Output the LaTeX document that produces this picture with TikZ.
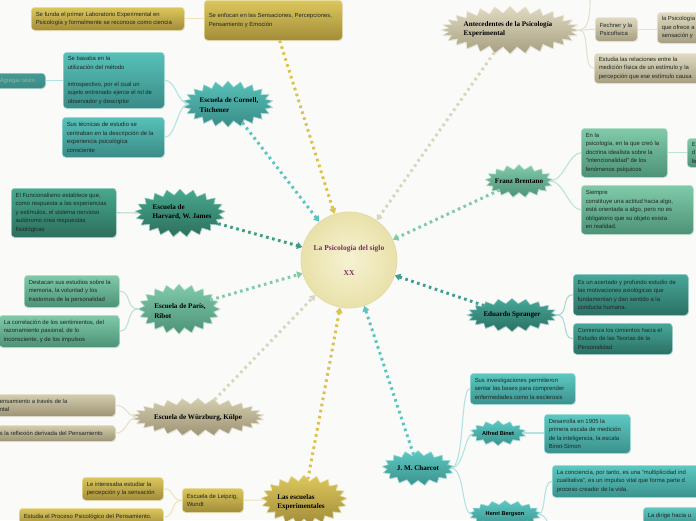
\documentclass[tikz,border=0pt]{standalone}
\usepackage{fontspec}
\setmainfont{Liberation Sans}
\newfontfamily\starfont{Liberation Serif}
\usetikzlibrary{shapes.symbols,arrows.meta,shadows}
\definecolor{bgc}{HTML}{FAFAF9}
\definecolor{goldA}{HTML}{DCC75C}
\definecolor{goldB}{HTML}{A28C3A}
\definecolor{tealA}{HTML}{57C1B9}
\definecolor{tealB}{HTML}{3A8B86}
\definecolor{grnA}{HTML}{47A98D}
\definecolor{grnB}{HTML}{2D6E5D}
\definecolor{lgrA}{HTML}{80CAA9}
\definecolor{lgrB}{HTML}{4D9278}
\definecolor{dtlA}{HTML}{47A899}
\definecolor{dtlB}{HTML}{2B7064}
\definecolor{ctlA}{HTML}{5DC8C1}
\definecolor{ctlB}{HTML}{3B928D}
\definecolor{bgeA}{HTML}{D4CDAE}
\definecolor{bgeB}{HTML}{9C9474}
\definecolor{be2A}{HTML}{E0DAC2}
\definecolor{be2B}{HTML}{A69F80}
\definecolor{txt}{HTML}{1E2826}
\definecolor{agr}{HTML}{93B4B1}
\definecolor{purp}{HTML}{7A2D60}
\definecolor{ctrA}{HTML}{F6F2D2}
\definecolor{ctrB}{HTML}{E9E1AA}
\definecolor{ctrD}{HTML}{E4DCA6}
\definecolor{dGold}{HTML}{DCC24C}
\definecolor{dTeal}{HTML}{5CC6BE}
\definecolor{dGrn}{HTML}{3E9C82}
\definecolor{dLgr}{HTML}{7FCBA9}
\definecolor{dBge}{HTML}{DAD5BD}
\definecolor{dDtl}{HTML}{3F9E8F}
\definecolor{lGold}{HTML}{EEE5B8}
\definecolor{lTeal}{HTML}{B4E3DF}
\definecolor{lGrn}{HTML}{B0D9CB}
\definecolor{lLgr}{HTML}{BDE4D3}
\definecolor{lBge}{HTML}{E6E1CF}
\definecolor{lDtl}{HTML}{ACDAD3}
\newcommand\bxfont{\fontsize{5.9}{8.5}\selectfont}
\newcommand\spfont{\starfont\bfseries\fontsize{7.1}{9.4}\selectfont}
\newcommand\ctfont{\starfont\bfseries\fontsize{7.5}{9}\selectfont}
\newcommand\smfont{\bfseries\fontsize{5.6}{7}\selectfont}
\tikzset{
  bx/.style={anchor=north west, rounded corners=3.5pt, inner xsep=4.5pt, inner ysep=1.5pt, align=flush left, font=\bxfont, text=txt},
  fl/.style 2 args={top color=#1, bottom color=#2, draw=#1!55!white, line width=0.5pt, drop shadow={shadow xshift=0.6pt, shadow yshift=-0.8pt, opacity=0.18}},
  spk/.style={starburst, random starburst=0, inner sep=0pt, outer sep=0pt},
  stxt/.style={font=\spfont, align=left, text=black, inner sep=0pt},
  dotl/.style={line width=3pt, dash pattern=on 2.6pt off 3.6pt, -{Triangle[length=5.5pt,width=7pt]}},
  tree/.style={line width=1.1pt},
}
\begin{document}
\begin{tikzpicture}[x=1pt,y=-1pt]
\fill[bgc] (0,0) rectangle (696,520);
\useasboundingbox (0,0) rectangle (696,520);

% centre
\node[circle, minimum size=96pt, inner sep=0pt, inner color=ctrA, outer color=ctrB, draw=ctrD, line width=0.8pt, font=\ctfont, text=purp, align=center] (ctr) at (349,260) {La Psicología del siglo\\[16pt]XX};

% top gold
\node[bx, fl={goldA}{goldB}, text width=129pt, minimum height=40pt] (enfocan) at (204,0) {Se enfocan en las Sensaciones, Percepciones,\\Pensamiento y Emoción};
\node[bx, fl={goldA}{goldB}, text width=144pt, minimum height=23pt] (funda) at (31,7) {Se funda el primer Laboratorio Experimental en\\Psicología y formalmente se reconoce como ciencia};

% Cornell
\node[spk, fl={tealA}{tealB}, minimum width=90pt, minimum height=46pt, starburst points=22, starburst point height=6pt] (cornell) at (228,104) {};
\node[stxt] (cornellT) at (229,105) {Escuela de Cornell,\\Titchener};
\node[bx, fl={tealA}{tealB}, text width=92pt, minimum height=56pt] (c1) at (63,52) {Se basaba en la\\ utilización del método\\[8.5pt]introspectivo, por el cual un\\sujeto entrenado ejerce el rol de\\observador y descriptor};
\node[bx, fl={tealA}{tealB}, text width=93pt, minimum height=40pt] (c2) at (62,117) {Sus técnicas de estudio se\\centraban en la descripción de la\\experiencia psicológica\\consciente};
\node[bx, fl={tealA!80!black}{tealB}, text width=41pt, minimum height=15pt, text=agr] (agr) at (-5,73) {Agregar texto};

% Harvard
\node[spk, fl={grnA}{grnB}, minimum width=90pt, minimum height=48pt, starburst points=21, starburst point height=6pt] (harvard) at (180,213) {};
\node[stxt] (harvardT) at (182,212) {Escuela de\\Harvard, W. James};
\node[bx, fl={grnA}{grnB}, text width=96pt, minimum height=49pt] (hv1) at (11,188) {El Funcionalismo establece que,\\como respuesta a las experiencias\\y estímulos, el sistema nervioso\\autónomo crea respuestas\\fisiológicas};

% Ribot
\node[spk, fl={lgrA}{lgrB}, minimum width=82pt, minimum height=50pt, starburst points=20, starburst point height=6pt] (ribot) at (179,309) {};
\node[stxt] (ribotT) at (180,311) {Escuela de París,\\Ribot};
\node[bx, fl={lgrA}{lgrB}, text width=86pt, minimum height=32pt] (r1) at (24,275) {Destacan sus estudios sobre la\\memoria, la voluntad y los\\trastornos de la personalidad};
\node[bx, fl={lgrA}{lgrB}, text width=111pt, minimum height=32pt] (r2) at (-1,315) { La correlación de los sentimientos, del\\razonamiento pasional, de lo\\inconsciente, y de los impulsos};

% Wurzburg
\node[spk, fl={bgeA}{bgeB}, minimum width=132pt, minimum height=38pt, starburst points=26, starburst point height=6pt] (wurz) at (198,417) {};
\node[stxt] (wurzT) at (198,418) {Escuela de Würzburg, Külpe};
\node[bx, fl={bgeA}{bgeB}, text width=111pt, minimum height=22pt] (w1) at (-5,394) {ensamiento a través de la\\ntal};
\node[bx, fl={bgeA}{bgeB}, text width=111pt, minimum height=16pt] (w2) at (-5,425) {s la reflexión derivada del Pensamiento};

% Las escuelas
\node[spk, fl={goldA}{goldB}, minimum width=86pt, minimum height=50pt, starburst points=21, starburst point height=6pt] (escuelas) at (304,500) {};
\node[stxt] (escuelasT) at (301,502) {Las escuelas\\Experimentales};
\node[bx, fl={goldA}{goldB}, text width=52pt, minimum height=24pt] (leip) at (182,488) {Escuela de Leipzig,\\Wundt};
\node[bx, fl={goldA}{goldB}, text width=72pt, minimum height=23pt] (l1) at (82,477) {Le interesaba estudiar la\\percepción y la sensación};
\node[bx, fl={goldA}{goldB}, text width=135pt, minimum height=18pt] (l2) at (19,508) {Estudia el Proceso Psicológico del Pensamiento.};

% Antecedentes
\node[spk, fl={be2A}{be2B}, minimum width=138pt, minimum height=48pt, starburst points=28, starburst point height=7pt] (ante) at (510,30) {};
\node[stxt] (anteT) at (508,29) {Antecedentes de la Psicología\\Experimental};
\node[bx, fl={be2A}{be2B}, text width=33pt, minimum height=24pt] (fech) at (595,17) {Fechner y la\\Psicofísica};
\node[bx, fl={be2A}{be2B}, text width=41pt, minimum height=31pt] (fech2) at (657,12) {la Psicología\\que ofrece a\\sensación y};
\node[bx, fl={be2A}{be2B}, text width=121pt, minimum height=30pt] (est) at (594,53) {Estudia las relaciones entre la\\medición física de un estímulo y la\\percepción que ese estímulo causa};
\coordinate (anteup) at (590,-12);

% Brentano
\node[spk, fl={lgrA}{lgrB}, minimum width=68pt, minimum height=33pt, starburst points=17, starburst point height=5pt] (brent) at (519,181) {};
\node[stxt] (brentT) at (519,181) {Franz Brentano};
\node[bx, fl={lgrA}{lgrB}, text width=77pt, minimum height=49pt] (b1) at (581,128) {En la\\psicología, en la que creó la\\doctrina idealista sobre la\\“intencionalidad” de los\\fenómenos psíquicos};
\node[bx, fl={lgrA}{lgrB}, text width=21pt, minimum height=29pt] (b1c) at (687,138) {E\\d\\fe};
\node[bx, fl={lgrA}{lgrB}, text width=103pt, minimum height=49pt] (b2) at (581,185) {Siempre\\constituye una actitud hacia algo,\\está orientada a algo, pero no es\\obligatorio que su objeto exista\\en realidad.};

% Spranger
\node[spk, fl={dtlA}{dtlB}, minimum width=90pt, minimum height=33pt, starburst points=20, starburst point height=5pt] (spr) at (512,315) {};
\node[stxt] (sprT) at (512,315) {Eduardo Spranger};
\node[bx, fl={dtlA}{dtlB}, text width=106pt, minimum height=41pt] (s1) at (573,274) {Es un acertado y profundo estudio de\\las motivaciones axiológicas que\\fundamentan y dan sentido a la\\conducta humana.};
\node[bx, fl={dtlA}{dtlB}, text width=90pt, minimum height=31pt] (s2) at (573,323) {Comienza los cimientos hacia el\\Estudio de las Teorías de la\\Personalidad};

% Charcot
\node[spk, fl={ctlA}{ctlB}, minimum width=72pt, minimum height=35pt, starburst points=17, starburst point height=5pt] (charcot) at (418,468) {};
\node[stxt] (charcotT) at (418,468) {J. M. Charcot};
\node[bx, fl={ctlA}{ctlB}, text width=96pt, minimum height=31pt] (ch1) at (470,373) {Sus investigaciones permitieron\\sentar las bases para comprender\\enfermedades como la esclerosis};
\node[spk, fl={ctlA}{ctlB}, minimum width=56pt, minimum height=25pt, starburst points=14, starburst point height=4pt] (binet) at (498,433) {};
\node[font=\smfont, text=black, inner sep=0pt] (binetT) at (498,433) {Alfred Binet};
\node[bx, fl={ctlA}{ctlB}, text width=77pt, minimum height=39pt] (bin1) at (544,414) {Desarrolla en 1905 la\\primera escala de medición\\de la inteligencia, la escala\\Binet-Simon};
\node[spk, fl={ctlA}{ctlB}, minimum width=72pt, minimum height=27pt, starburst points=17, starburst point height=4pt] (berg) at (505,514) {};
\node[font=\smfont, text=black, inner sep=0pt] (bergT) at (505,514) {Henri Bergson};
\node[bx, fl={ctlA}{ctlB}, text width=170pt, minimum height=32pt] (berg1) at (552,465) {La conciencia, por tanto, es una “multiplicidad ind\\cualitativa”, es un impulso vital que forma parte d\\proceso creador de la vida.};
\node[bx, fl={ctlA}{ctlB}, text width=60pt, minimum height=18pt] (berg2) at (643,507) {La dirige hacia u};
\coordinate (bergdown) at (552,540);

% tree connectors
\draw[tree, lGold] (funda.east) -- (funda.east -| enfocan.west);
\draw[tree, lTeal] (agr.east) -- (agr.east -| c1.west);
\draw[tree, lTeal] (cornell.west) .. controls +(-12,0) and +(12,0) .. (c1.east);
\draw[tree, lTeal] (cornell.west) .. controls +(-12,0) and +(12,0) .. (c2.east);
\draw[tree, lGrn] (hv1.east) -- (harvard.west);
\draw[tree, lLgr] (ribot.west) .. controls +(-12,0) and +(12,0) .. (r1.east);
\draw[tree, lLgr] (ribot.west) .. controls +(-12,0) and +(12,0) .. (r2.east);
\draw[tree, lBge] (wurz.west) .. controls +(-12,0) and +(12,0) .. (w1.east);
\draw[tree, lBge] (wurz.west) .. controls +(-12,0) and +(12,0) .. (w2.east);
\draw[tree, lGold] (escuelas.west) -- (leip.east);
\draw[tree, lGold] (leip.west) .. controls +(-12,0) and +(12,0) .. (l1.east);
\draw[tree, lGold] (leip.west) .. controls +(-12,0) and +(12,0) .. (l2.east);
\draw[tree, lBge] (ante.east) .. controls +(10,0) and +(-10,0) .. (fech.west);
\draw[tree, lBge] (ante.east) .. controls +(12,0) and +(-12,0) .. (est.west);
\draw[tree, lBge] (ante.east) .. controls +(12,0) and +(0,20) .. (anteup);
\draw[tree, lBge] (fech.east) -- (fech.east -| fech2.west);
\draw[tree, lLgr] (brent.east) .. controls +(14,0) and +(-12,0) .. (b1.west);
\draw[tree, lLgr] (brent.east) .. controls +(14,0) and +(-12,0) .. (b2.west);
\draw[tree, lLgr] (b1.east) -- (b1.east -| b1c.west);
\draw[tree, lDtl] (spr.east) .. controls +(12,0) and +(-12,0) .. (s1.west);
\draw[tree, lDtl] (spr.east) .. controls +(12,0) and +(-12,0) .. (s2.west);
\draw[tree, lTeal] (charcot.east) .. controls +(14,0) and +(-10,0) .. (ch1.west);
\draw[tree, lTeal] (charcot.east) .. controls +(14,0) and +(-10,0) .. (binet.west);
\draw[tree, lTeal] (charcot.east) .. controls +(14,0) and +(-10,0) .. (berg.west);
\draw[tree, lTeal] (binet.east) -- (binet.east -| bin1.west);
\draw[tree, lTeal] (berg.east) .. controls +(8,0) and +(-10,0) .. (berg1.west);
\draw[tree, lTeal] (berg.east) .. controls +(8,0) and +(0,-10) .. (bergdown);

% dotted connectors to centre
\draw[dotl, dGold] (enfocan) -- (ctr);
\draw[dotl, dTeal] (cornell) -- (ctr);
\draw[dotl, dGrn] (harvard) -- (ctr);
\draw[dotl, dLgr] (ribot) -- (ctr);
\draw[dotl, dBge] (wurz) -- (ctr);
\draw[dotl, dGold] (escuelas) -- (ctr);
\draw[dotl, dTeal] (charcot) -- (ctr);
\draw[dotl, dDtl] (spr) -- (ctr);
\draw[dotl, dLgr] (brent) -- (ctr);
\draw[dotl, dBge] (ante) -- (ctr);
\end{tikzpicture}
\end{document}
